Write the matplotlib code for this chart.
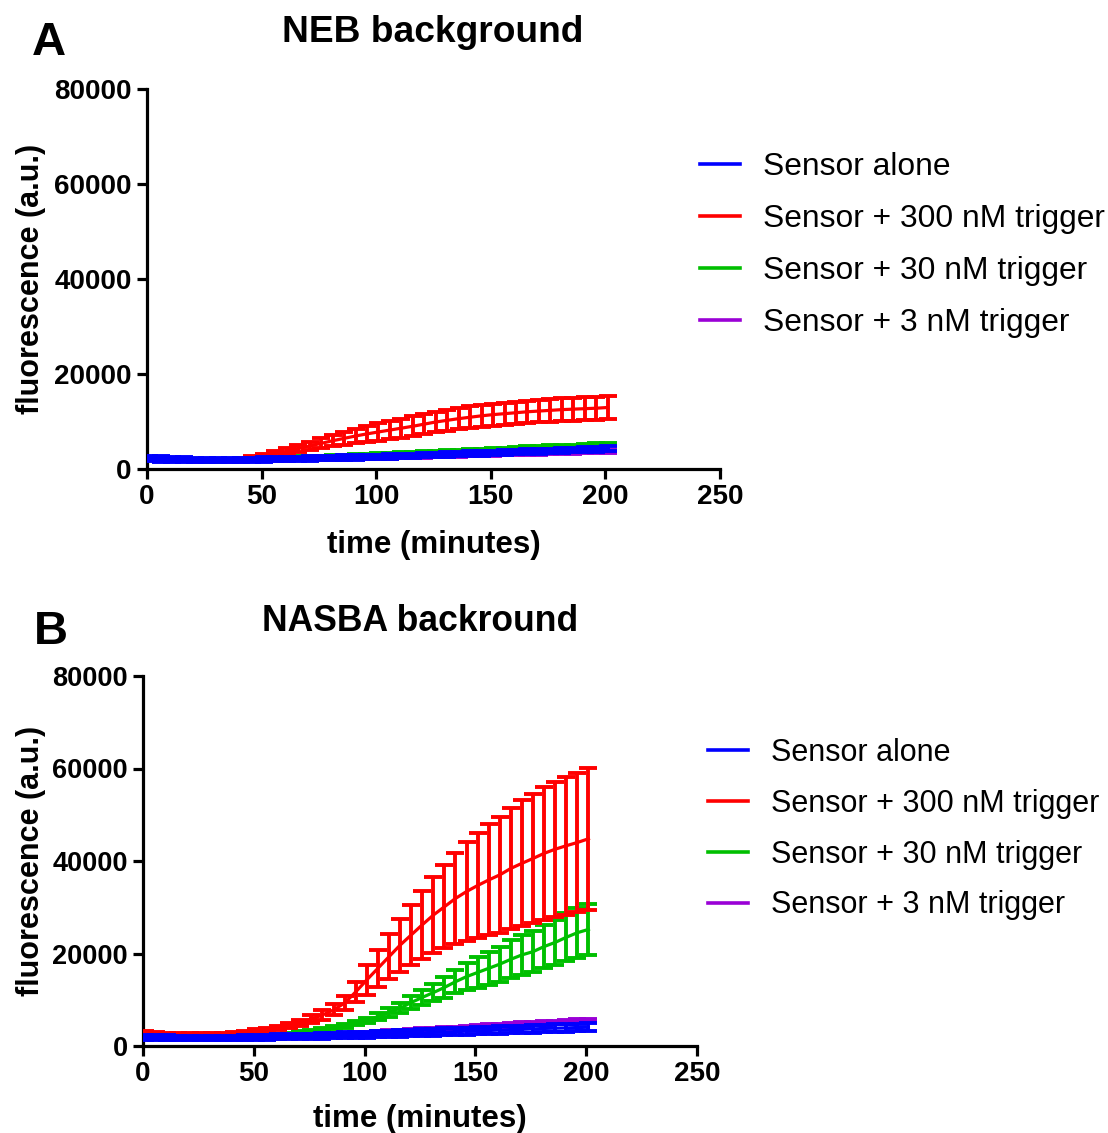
import numpy as np
import matplotlib
matplotlib.use('Agg')
import matplotlib.pyplot as plt
from matplotlib.lines import Line2D

plt.rcParams['font.family'] = ['Liberation Sans', 'DejaVu Sans']

# sampling times (minutes)
time = [1, 6, 11, 16, 21, 26, 31, 36, 41, 46, 51, 56, 61, 66, 71, 76, 81, 86, 91, 96,
        101, 106, 111, 116, 121, 126, 131, 136, 141, 146, 151, 156, 161, 166, 171, 176,
        181, 186, 191, 196, 201]

labels = ['Sensor alone', 'Sensor + 300 nM trigger', 'Sensor + 30 nM trigger',
          'Sensor + 3 nM trigger']
colors = ['#0000ff', '#ff0000', '#00bf00', '#9a00d6']

# --- NEB background ---
neb_alone = [2200, 2100, 2000, 1950, 1900, 1850, 1850, 1850, 1900, 1950, 2000, 2050, 2100,
             2150, 2200, 2250, 2300, 2400, 2450, 2500, 2600, 2650, 2750, 2800, 2900, 3000,
             3050, 3150, 3250, 3300, 3400, 3500, 3550, 3650, 3750, 3800, 3900, 4000, 4050,
             4150, 4250]
neb_alone_sd = [550, 550, 520, 500, 500, 480, 480, 460, 450, 450, 450, 450, 450, 450, 450,
                450, 450, 450, 450, 450, 450, 460, 460, 460, 470, 470, 470, 480, 480, 480,
                490, 490, 490, 500, 500, 500, 500, 500, 500, 500, 500]
neb_300 = [2300, 2200, 2100, 2000, 1950, 1900, 1900, 1950, 2100, 2400, 2800, 3250, 3750,
           4300, 4850, 5400, 5950, 6450, 6950, 7400, 7800, 8200, 8600, 9000, 9450, 9900,
           10250, 10600, 10900, 11200, 11450, 11650, 11850, 12050, 12200, 12350, 12500,
           12600, 12700, 12800, 12950]
neb_300_sd = [200, 200, 200, 200, 200, 200, 200, 200, 250, 300, 400, 500, 600, 750, 900,
              1050, 1200, 1350, 1500, 1650, 1800, 1900, 2000, 2100, 2150, 2200, 2250, 2250,
              2300, 2300, 2300, 2350, 2350, 2350, 2400, 2400, 2400, 2400, 2450, 2450, 2450]
neb_30 = [2200, 2100, 2000, 1950, 1900, 1850, 1850, 1900, 1950, 2000, 2100, 2150, 2250,
          2350, 2400, 2500, 2600, 2700, 2800, 2900, 3000, 3100, 3200, 3300, 3450, 3550,
          3650, 3750, 3850, 4000, 4100, 4200, 4300, 4450, 4550, 4650, 4750, 4850, 5000,
          5100, 5250]
neb_30_sd = [300, 300, 300, 300, 300, 300, 300, 300, 300, 300, 300, 300, 300, 300, 300,
             300, 300, 300, 300, 300, 300, 300, 300, 300, 300, 300, 300, 300, 300, 300,
             300, 300, 300, 300, 300, 300, 300, 300, 300, 300, 300]
neb_3 = [2150, 2050, 1950, 1900, 1850, 1800, 1800, 1800, 1850, 1900, 1950, 2000, 2050,
         2100, 2150, 2200, 2250, 2300, 2350, 2400, 2450, 2500, 2550, 2600, 2700, 2750,
         2800, 2900, 2950, 3000, 3100, 3150, 3200, 3300, 3350, 3400, 3500, 3550, 3600,
         3700, 3750]
neb_3_sd = [300, 300, 300, 300, 300, 300, 300, 300, 300, 300, 300, 300, 300, 300, 300,
            300, 300, 300, 300, 300, 300, 300, 300, 300, 300, 300, 300, 300, 300, 300,
            300, 300, 300, 300, 300, 300, 300, 300, 300, 300, 300]

# --- NASBA background ---
nasba_alone = [1900, 1850, 1800, 1750, 1700, 1700, 1700, 1700, 1750, 1800, 1850, 1900,
               1950, 2000, 2050, 2100, 2200, 2250, 2300, 2400, 2450, 2550, 2600, 2700,
               2800, 2850, 2950, 3050, 3100, 3200, 3300, 3350, 3450, 3550, 3600, 3700,
               3800, 3850, 3900, 4000, 4050]
nasba_alone_sd = [500, 500, 500, 500, 500, 500, 500, 500, 500, 500, 500, 520, 540, 560,
                  580, 600, 600, 620, 640, 660, 680, 700, 700, 700, 720, 720, 740, 740,
                  760, 760, 780, 780, 800, 800, 800, 820, 820, 840, 840, 860, 860]
nasba_300 = [2850, 2700, 2600, 2500, 2450, 2450, 2500, 2600, 2750, 2950, 3200, 3500, 3900,
             4400, 5000, 5800, 6700, 7800, 9300, 11700, 14300, 16800, 19300, 21800, 24000,
             26200, 28300, 30100, 31900, 33400, 34700, 35900, 37000, 38400, 39500, 40550,
             41650, 42550, 43300, 44000, 44800]
nasba_300_sd = [300, 300, 300, 300, 300, 300, 300, 300, 300, 350, 400, 450, 500, 600, 700,
                800, 1000, 1200, 1600, 2200, 3200, 4000, 4900, 5700, 6500, 7300, 8200,
                9000, 9900, 10700, 11400, 12000, 12600, 13100, 13600, 14000, 14300, 14600,
                14900, 15100, 15300]
nasba_30 = [2100, 2000, 1900, 1850, 1800, 1800, 1800, 1800, 1850, 1900, 2000, 2100, 2250,
            2500, 2800, 3150, 3550, 4000, 4400, 4950, 5550, 6350, 7250, 8150, 9400, 10500,
            11550, 12650, 13900, 15000, 15900, 16800, 17700, 18750, 19700, 20400, 21500,
            22400, 23500, 24500, 25200]
nasba_30_sd = [300, 300, 300, 300, 300, 300, 300, 300, 300, 300, 300, 300, 300, 320, 350,
               380, 400, 420, 450, 500, 550, 700, 900, 1100, 1350, 1600, 1900, 2200, 2500,
               2900, 3300, 3600, 3800, 4100, 4300, 4450, 4650, 4900, 5150, 5400, 5500]
nasba_3 = [1900, 1850, 1800, 1750, 1700, 1700, 1700, 1700, 1750, 1800, 1850, 1900, 1950,
           2050, 2100, 2200, 2300, 2400, 2500, 2600, 2700, 2850, 3000, 3100, 3250, 3400,
           3550, 3650, 3800, 3950, 4100, 4250, 4400, 4550, 4700, 4850, 5000, 5100, 5250,
           5400, 5500]
nasba_3_sd = [400, 400, 400, 400, 400, 400, 400, 400, 400, 400, 400, 400, 400, 400, 400,
              400, 400, 400, 400, 400, 400, 400, 400, 400, 400, 400, 400, 400, 400, 400,
              400, 400, 400, 400, 400, 400, 400, 400, 400, 400, 400]

xticks = [0, 50, 100, 150, 200, 250]
yticks = [0, 20000, 40000, 60000, 80000]

fig = plt.figure(figsize=(11.08, 11.33), dpi=100)
W, H = 1108.0, 1133.0


def panel(rect, series, title, tsize, tag, title_xy, tag_xy, ytick_size, xlab_y, ylab_x):
    ax = fig.add_axes(rect)
    # draw purple first, blue last so it sits on top
    zorders = [5, 4, 3, 2]
    for (m, s), c, z in zip(series, colors, zorders):
        ax.errorbar(time, m, yerr=s, color=c, lw=2.3, elinewidth=2.8, capsize=6.5,
                    capthick=2.8, zorder=z)
    ax.set_xlim(0, 250)
    ax.set_ylim(0, 80000)
    ax.set_xticks(xticks)
    ax.set_yticks(yticks)
    for sp in ['top', 'right']:
        ax.spines[sp].set_visible(False)
    for sp in ['left', 'bottom']:
        ax.spines[sp].set_linewidth(2.3)
    ax.tick_params(length=7, width=2.3, direction='out', pad=4)
    for lab in ax.get_xticklabels():
        lab.set_fontsize(20)
        lab.set_fontweight('bold')
    for lab in ax.get_yticklabels():
        lab.set_fontsize(ytick_size)
        lab.set_fontweight('bold')
    ax.set_xlabel('time (minutes)', fontsize=22.5, fontweight='bold')
    ax.set_ylabel('fluorescence (a.u.)', fontsize=22, fontweight='bold')
    ax.xaxis.set_label_coords(0.5, xlab_y)
    ax.yaxis.set_label_coords(ylab_x, 0.5)
    fig.text(title_xy[0] / W, 1 - title_xy[1] / H, title, fontsize=tsize,
             fontweight='bold', ha='center', va='baseline')
    fig.text(tag_xy[0] / W, 1 - tag_xy[1] / H, tag, fontsize=34,
             fontweight='bold', ha='left', va='baseline')
    return ax


neb_series = [(neb_alone, neb_alone_sd), (neb_300, neb_300_sd),
              (neb_30, neb_30_sd), (neb_3, neb_3_sd)]
nasba_series = [(nasba_alone, nasba_alone_sd), (nasba_300, nasba_300_sd),
                (nasba_30, nasba_30_sd), (nasba_3, nasba_3_sd)]

axA = panel([147 / W, 1 - 469 / H, 573 / W, 380 / H], neb_series, 'NEB background', 26.7,
            'A', (433, 42), (32, 55), 20, -0.16, -0.1756)
axB = panel([143 / W, 1 - 1046 / H, 554 / W, 370 / H], nasba_series, 'NASBA backround', 25.6,
            'B', (420, 631), (34, 644), 19.5, -0.158, -0.1744)

handles = [Line2D([], [], color=c, lw=2.6) for c in colors]
fig.legend(handles, labels, loc='upper left', bbox_to_anchor=(700 / W, 1 - 152 / H),
           frameon=False, fontsize=22.9, handlelength=1.26, handletextpad=0.73,
           labelspacing=0.69, borderpad=0, borderaxespad=0)
fig.legend(handles, labels, loc='upper left', bbox_to_anchor=(708 / W, 1 - 738 / H),
           frameon=False, fontsize=22, handlelength=1.31, handletextpad=0.75,
           labelspacing=0.68, borderpad=0, borderaxespad=0)

fig.savefig('out.png', dpi=100)
